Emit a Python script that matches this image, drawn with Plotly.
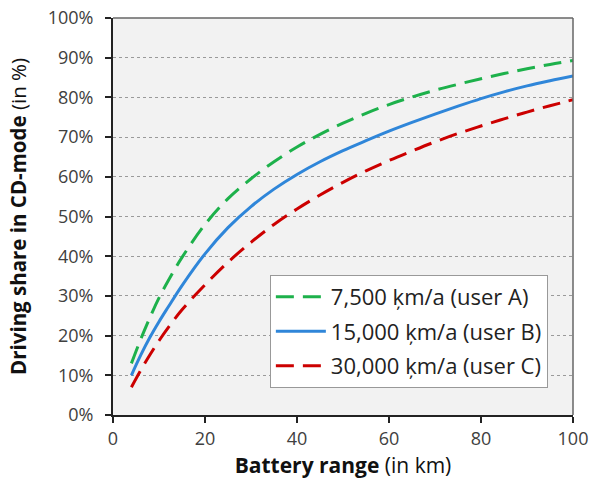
import plotly.graph_objects as go

# Battery range (km)
range_km = [4, 6, 8, 10, 12, 15, 20, 25, 30, 35, 40, 45, 50, 55, 60, 65, 70, 75, 80, 85, 90, 95, 100]

# Driving share in CD-mode (%)
user_a = [13, 19, 24.5, 29.5, 33.8, 39.7, 48, 54.5, 59.5, 63.8, 67.5, 70.7, 73.5, 76, 78.2, 80.1, 81.8, 83.3, 84.7, 86, 87.2, 88.3, 89.3]
user_b = [10, 15, 19.5, 23.5, 27.2, 32.6, 40.6, 47.2, 52.5, 56.9, 60.6, 63.8, 66.6, 69.1, 71.5, 73.7, 75.8, 77.8, 79.7, 81.4, 82.9, 84.2, 85.4]
user_c = [7, 11.2, 15.1, 18.7, 22, 26.5, 32.8, 38.5, 43.5, 48, 51.9, 55.4, 58.6, 61.5, 64.1, 66.5, 68.8, 70.9, 72.8, 74.6, 76.3, 77.9, 79.4]

y_ticks = list(range(0, 101, 10))
y_ticktext = [f"{v}%" for v in y_ticks]
x_ticks = [0, 20, 40, 60, 80, 100]

names = ["7,500 ķm/a (user A)", "15,000 ķm/a (user B)", "30,000 ķm/a (user C)"]
colors = ["#1db14b", "#2f86d9", "#cc0000"]
dashes = ["18px,9px", "solid", "18px,9px"]

FONT = "Open Sans"
fig = go.Figure()
for i, (ys, nm, c, d) in enumerate(zip([user_a, user_b, user_c], names, colors, dashes)):
    fig.add_trace(go.Scatter(x=range_km, y=ys, mode="lines", name=nm, legendgroup=f"g{i}",
                             line=dict(color=c, width=3, dash=d, shape="spline")))

fig.update_layout(
    width=590, height=486,
    margin=dict(l=113, r=17, t=18, b=71),
    paper_bgcolor="white", plot_bgcolor="#f2f2f2",
    font=dict(family=FONT, size=18, color="#404040"),
    showlegend=True,
    legend=dict(x=0.341, y=0.353, xanchor="left", yanchor="top",
                bgcolor="white", bordercolor="#999", borderwidth=1, itemwidth=50,
                font=dict(size=22, color="#222"), tracegroupgap=3),
    xaxis=dict(range=[0, 100], tickvals=x_ticks, automargin=False,
               showgrid=False, zeroline=False, showline=True, linecolor="#222", linewidth=2,
               ticks="outside", ticklen=6, tickwidth=2, tickcolor="#222",
               title=dict(text="<b>Battery range</b> (in km)", font=dict(size=21, color="#111"), standoff=10)),
    yaxis=dict(range=[0, 100], tickvals=y_ticks, ticktext=y_ticktext, automargin=False,
               showgrid=True, gridcolor="#9a9a9a", gridwidth=1, griddash="dot",
               zeroline=False, showline=True, linecolor="#222", linewidth=2,
               ticks="outside", ticklen=6, tickwidth=2, tickcolor="#222", ticklabelstandoff=8,
               title=dict(text="<b>Driving share in CD-mode</b> (in %)", font=dict(size=20.5, color="#111"), standoff=15)),
)
fig.add_shape(type="line", xref="paper", yref="paper", x0=0, x1=1, y0=1, y1=1,
              line=dict(color="#666", width=1.5))
fig.add_shape(type="line", xref="paper", yref="paper", x0=1, x1=1, y0=0, y1=1,
              line=dict(color="#666", width=1.5))
fig.write_html("out.html", config={"displayModeBar": False},
               post_script="document.body.style.margin='0';")
